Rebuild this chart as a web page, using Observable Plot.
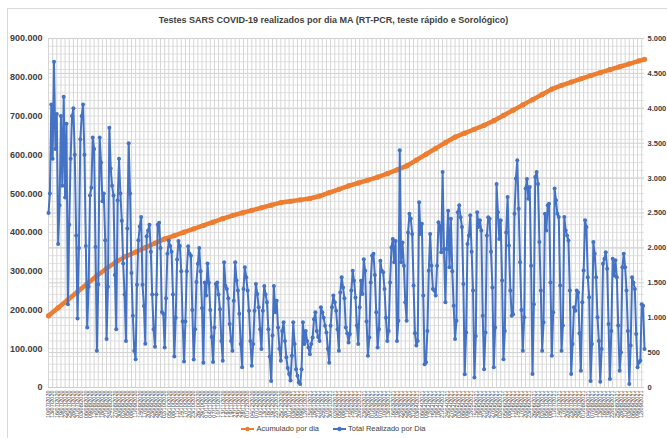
<!DOCTYPE html>
<html><head><meta charset="utf-8">
<script src="https://cdn.jsdelivr.net/npm/d3@7"></script>
<script src="https://cdn.jsdelivr.net/npm/@observablehq/plot@0.6"></script>
<style>
body{margin:0;background:#fff;}
#wrap{position:relative;width:667px;height:438px;overflow:hidden;font-family:"Liberation Sans Narrow","Liberation Sans",Arial,sans-serif;}
#frame{position:absolute;left:7px;top:8px;width:700px;height:440px;border:1px solid #d9d9d9;box-sizing:border-box;}
#title{position:absolute;top:15px;left:0;width:667px;text-align:center;font-weight:bold;font-size:9px;color:#404040;}
#chart{position:absolute;left:0;top:0;}
#legend{position:absolute;top:424px;left:0;width:667px;display:flex;justify-content:center;gap:14px;font-size:7.5px;color:#404040;}
#legend span{display:flex;align-items:center;gap:2px;}
</style></head>
<body>
<div id="wrap">
<div id="frame"></div>
<div id="chart"></div>
<div id="title"></div>
<div id="legend"></div>
</div>
<script>
// Series names
const seriesNames = ["Acumulado por dia", "Total Realizado por Dia"];
const seriesColors = ["#ED7D31", "#4472C4"];
const titleText = "Testes SARS COVID-19 realizados por dia MA (RT-PCR, teste rápido e Sorológico)";
const startDate = "2020-07-10";

// Total Realizado por Dia (left axis, thousands)
const totalDaily = [450,
500,730,590,840,615,705,370,
470,700,520,750,490,680,215,
420,590,700,720,600,392,178,
360,640,700,730,600,365,155,
260,495,515,645,615,362,95,
266,645,580,480,500,380,125,
260,670,565,520,495,290,150,
482,590,500,430,320,240,120,
410,630,500,295,185,95,73,
265,380,415,440,265,210,113,
390,405,420,350,240,150,105,
240,420,425,360,195,190,103,
230,345,379,365,350,240,80,
180,330,378,365,300,170,67,
170,300,364,345,340,200,72,
150,272,319,360,300,205,64,
271,237,320,270,200,130,66,
155,267,271,240,202,120,69,
323,262,254,230,164,120,95,
224,323,276,250,190,112,52,
254,310,284,250,198,120,56,
112,198,267,241,207,150,99,
198,262,240,220,150,80,17,
134,262,194,224,155,100,69,
146,168,120,78,50,35,18,
82,168,112,47,30,13,9,
47,168,112,146,120,103,86,
112,129,176,194,146,130,120,
207,194,180,159,142,100,64,
159,207,237,220,198,150,95,
245,284,258,230,155,140,116,
138,250,301,275,232,160,112,
207,275,241,331,301,170,82,
129,271,340,345,290,194,103,
150,327,301,297,254,180,120,
146,271,361,383,323,378,120,
172,612,323,374,314,220,172,
400,448,435,396,263,140,108,
120,478,396,422,237,60,65,
146,301,396,314,254,250,237,
314,426,418,349,556,357,220,
357,456,310,435,300,211,125,
172,452,470,439,414,267,34,
142,370,392,444,350,250,26,
133,452,414,431,405,185,47,
142,392,439,435,350,258,52,
155,525,452,383,431,276,73,
146,400,491,366,250,185,189,
448,539,586,461,323,200,95,
181,513,538,487,517,314,35,
215,543,556,525,375,250,95,
168,448,405,470,474,271,82,
194,513,483,448,440,263,95,
160,440,405,392,379,250,35,
112,207,198,250,245,140,43,
220,302,431,414,284,233,17,
112,375,345,284,181,120,15,
99,319,332,349,306,164,22,
146,332,289,328,284,160,43,
91,310,345,310,250,146,9,
108,284,271,254,138,52,65,
69,215,211,99];

// Acumulado por dia (right axis, read weekly), day offsets of the readings
const cumulativeDay = [0,7,14,21,28,35,42,49,56,63,70,77,84,91,98,105,112,119,126,133,140,147,154,161,168,175,182,189,196,203,210,217,224,231,238,245,252,259,266,273,280,287,294,301,308,315,322,329,336,343,350,357,364,371,378,385,392,399,406,413,420,427,431];
const cumulative = [1027,1142,1257,1371,1486,1601,1705,1802,1879,1941,2004,2067,2129,2177,2225,2273,2321,2369,2418,2464,2501,2538,2575,2612,2649,2668,2688,2707,2743,2791,2840,2888,2930,2972,3013,3063,3119,3174,3257,3341,3425,3508,3588,3644,3700,3756,3823,3898,3973,4049,4124,4199,4275,4329,4376,4423,4469,4511,4553,4595,4637,4679,4702];

// Axis ticks
const leftTicks = [0,100,200,300,400,500,600,700,800,900];
const rightTicks = [0,500,1000,1500,2000,2500,3000,3500,4000,4500,5000];

const n = totalDaily.length;
const start = new Date(startDate + "T00:00:00Z");
const dates = totalDaily.map((_, i) => d3.utcDay.offset(start, i));
const K = 900 / 5000;
const blue = totalDaily.map((v, i) => ({date: dates[i], v}));
const orange = cumulative.map((v, k) => ({date: dates[cumulativeDay[k]], v: v * K}));
const fmt = d3.formatLocale({decimal: ",", thousands: ".", grouping: [3], currency: ["", ""]}).format(",");
const xTicks = dates.filter((d, i) => i % 3 === 0);

const font = '"Liberation Sans Narrow","Liberation Sans",Arial,sans-serif';
const chart = Plot.plot({
  width: 667, height: 420,
  marginLeft: 48, marginRight: 23, marginTop: 38, marginBottom: 33,
  x: {type: "utc", domain: [dates[0], dates[n - 1]], label: null},
  y: {domain: [0, 900], label: null},
  style: {fontFamily: font, fontSize: "9px", color: "#404040", background: "transparent"},
  marks: [
    Plot.gridY(d3.range(0, 901, 20), {stroke: "#e2e2e2", strokeOpacity: 1}),
    Plot.gridY(rightTicks.map(t => t * K), {stroke: "#cfcfcf", strokeOpacity: 1}),
    Plot.gridX(xTicks, {stroke: "#d6d6d6", strokeOpacity: 1}),
    Plot.axisY(leftTicks, {anchor: "left", tickSize: 0, tickPadding: 6, label: null, fontWeight: "bold", tickFormat: d => fmt(d * 1000)}),
    Plot.axisY(rightTicks.map(t => t * K), {anchor: "right", tickSize: 0, tickPadding: 3, label: null, fontWeight: "bold", fontSize: 7.5, tickFormat: d => fmt(Math.round(d / K))}),
    Plot.axisX(xTicks, {tickSize: 0, tickPadding: 3, tickRotate: -90, fontSize: 5.5, label: null, tickFormat: d3.utcFormat("%d/%m/%Y")}),
    Plot.line(orange, {x: "date", y: "v", stroke: seriesColors[0], strokeWidth: 4.5}),
    Plot.dot(orange, {x: "date", y: "v", fill: seriesColors[0], r: 2.6}),
    Plot.line(blue, {x: "date", y: "v", stroke: seriesColors[1], strokeWidth: 2}),
    Plot.dot(blue, {x: "date", y: "v", fill: seriesColors[1], r: 2})
  ]
});
document.getElementById("chart").appendChild(chart);
document.getElementById("title").textContent = titleText;
const leg = document.getElementById("legend");
seriesNames.forEach((name, i) => {
  const s = document.createElement("span");
  s.innerHTML = `<svg width="13" height="6"><line x1="0" y1="3" x2="13" y2="3" stroke="${seriesColors[i]}" stroke-width="2"/><circle cx="6.5" cy="3" r="2.2" fill="${seriesColors[i]}"/></svg>${name}`;
  leg.appendChild(s);
});
</script>
</body></html>
